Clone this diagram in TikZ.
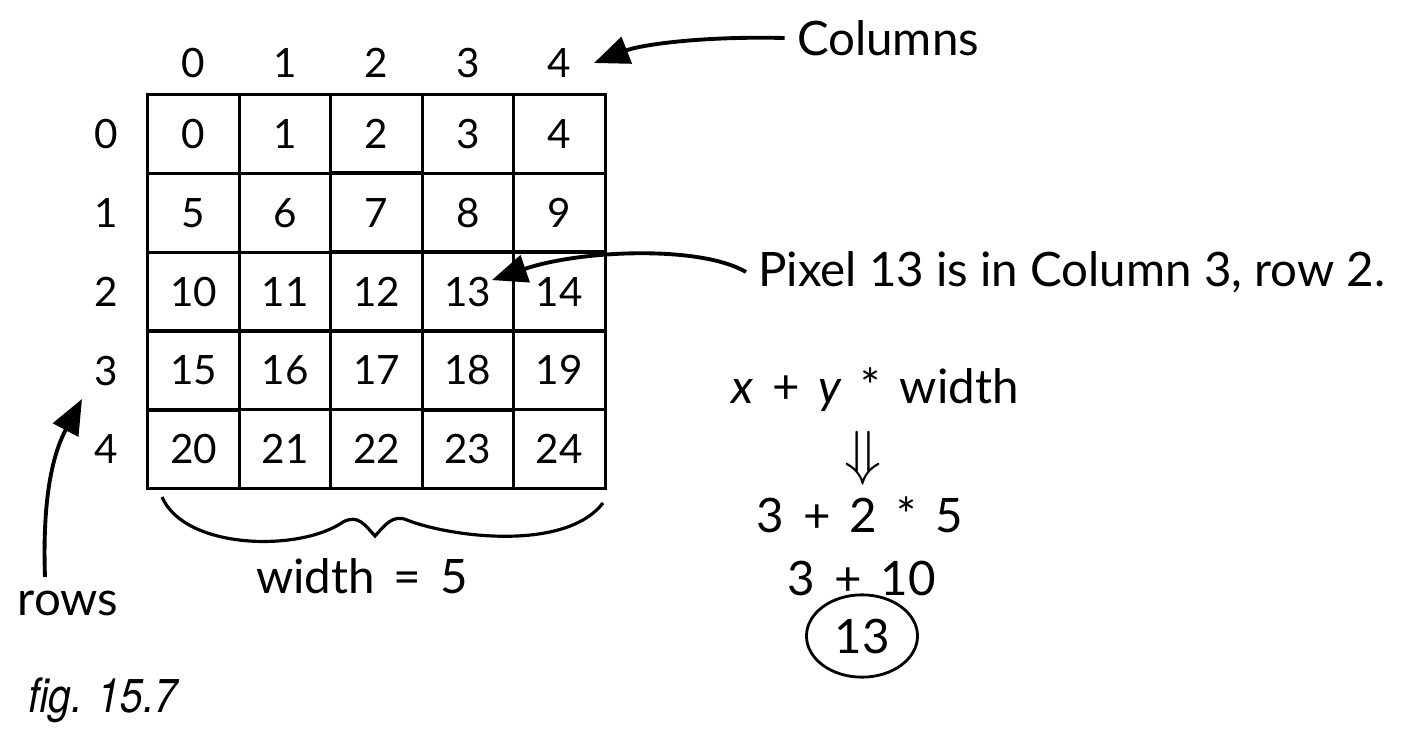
\documentclass[tikz,border=0pt]{standalone}
\usepackage{fontspec}
\setmainfont{Lato}
\newfontfamily\figfont{TeX Gyre Heros}[FakeStretch=0.86]
\usetikzlibrary{matrix,arrows.meta,shapes.geometric}
\newcommand\op[1]{\hspace{0.4em}#1\hspace{0.4em}}
\tikzset{cell/.style={
    rectangle,
    draw,
    line width=0.9pt,
    inner sep=0pt,
    minimum width=0.914cm,
    minimum height=0.786cm,
    font=\fontsize{11.5}{11.5}\selectfont
  },
  lbl/.style={font=\fontsize{11.5}{11.5}\selectfont},
  note/.style={font=\fontsize{13.5}{13.5}\selectfont},
  result/.style={note,ellipse,draw,line width=0.8pt,minimum width=1.1cm,minimum height=0.5cm},
  pointer/.style={line width=1.1pt,-{Triangle[length=10pt,width=8pt]}},
}

\begin{document}
\begin{tikzpicture}[x=0.01cm,y=-0.01cm]
  \useasboundingbox (0,0) rectangle (1405,730);
  \matrix (grid) [matrix of nodes,nodes={cell},column sep=-0.9pt,row sep=-0.9pt,ampersand replacement=\&] at (376.5,291.5) {
    0  \& 1  \& 2  \& 3  \& 4  \\
    5  \& 6  \& 7  \& 8  \& 9  \\
    10 \& 11 \& 12 \& 13 \& 14 \\
    15 \& 16 \& 17 \& 18 \& 19 \\
    20 \& 21 \& 22 \& 23 \& 24 \\
  };
  % column and row numbers
  \foreach \i [evaluate=\i as \n using int(\i-1)] in {1,...,5} {
    \node[lbl] (col-\n) at ([yshift=0.3cm]grid-1-\i.north) {\n};
    \node[lbl] (row-\n) at ([xshift=-0.4cm]grid-\i-1.west) {\n};
  }
  % notes
  \node[note] (colnote) at (888,38) {Columns};
  \node[note] (pixnote) at (1072,272) {Pixel 13 is in Column 3, row 2.};
  \node[note] (rowsnote) at (68,603) {rows};
  \node[note] (widthnote) at (362,576) {width\op{=}5};
  \coordinate (coltip) at (594,63);
  \coordinate (tip13) at ([xshift=0.24cm,yshift=0.115cm]grid-3-4.center);
  \coordinate (rowtip) at (82,399);
  \draw[pointer] (colnote.west) .. controls (700,36) and (640,45) .. (coltip);
  \draw[pointer] (pixnote.west) .. controls (700,245) and (580,250) .. (tip13);
  \draw[pointer] ([xshift=-0.23cm,yshift=0.26cm]rowsnote.center) .. controls (42,490) and (55,450) .. (rowtip);
  % brace under the grid
  \draw[line width=0.9pt] (162,497) .. controls (185,550) and (300,552) .. (343,522)
    .. controls (358,514) and (365,525) .. (375,536)
    .. controls (385,525) and (393,514) .. (407,520)
    .. controls (450,537) and (565,552) .. (603,503);
  % the sum
  \node[note] (formula) at (875,390) {{\itshape x}\op{+}{\itshape y}\op{*}width};
  \node[note] (then) at (863,458) {\LARGE$\Downarrow$};
  \node[note] (step1) at (860,515) {3\op{+}2\op{*}5};
  \node[note] (step2) at (862,578) {3\op{+}10};
  \node[result] (answer) at (862,636) {13};
  \node[font=\figfont\itshape\fontsize{13.5}{13.5}\selectfont,anchor=west] (fig) at (16,700) {fig. 15.7};
\end{tikzpicture}
\end{document}
